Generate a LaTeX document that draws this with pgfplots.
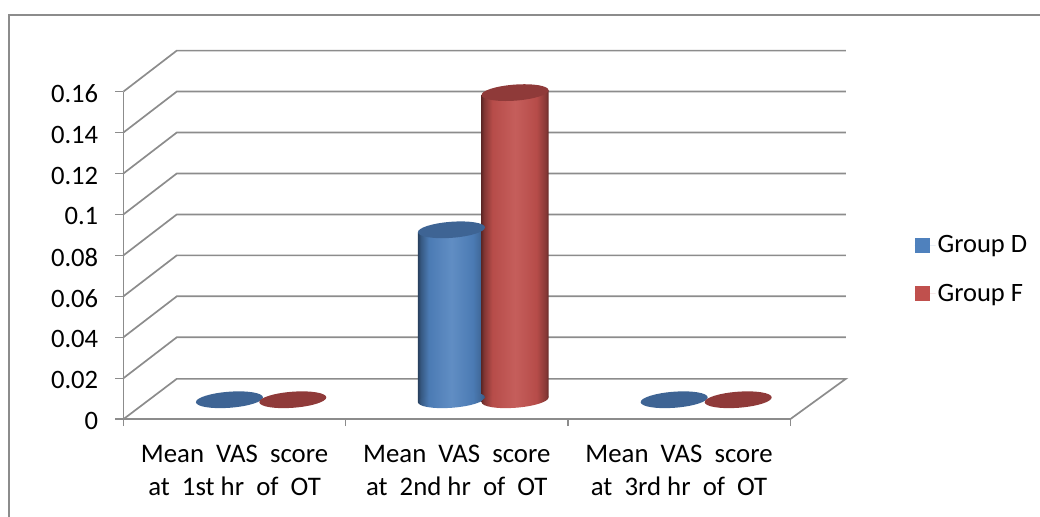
\documentclass[border=0pt]{standalone}
\usepackage{fontspec}
\setmainfont{Carlito}
\usepackage{pgfplots}
\pgfplotsset{compat=1.18}
\usepackage{pgfplotstable}

\definecolor{gridgray}{HTML}{8C8C8C}
\definecolor{capD}{HTML}{3E6494}
\definecolor{capF}{HTML}{8F3A39}
\definecolor{groupD}{HTML}{4F81BD}
\definecolor{groupF}{HTML}{C0504D}

% cylinder side shading; the central 50bp span the width of the body
\pgfdeclarehorizontalshading{cylD}{100bp}{
  color(0bp)=(groupD!50!black); color(25bp)=(groupD!50!black);
  color(27bp)=(groupD!68!black); color(33bp)=(groupD!95!black);
  color(50bp)=(groupD!90!white); color(66bp)=(groupD!95!black);
  color(73bp)=(groupD!78!black); color(75bp)=(groupD!65!black);
  color(100bp)=(groupD!65!black)}
\pgfdeclarehorizontalshading{cylF}{100bp}{
  color(0bp)=(groupF!50!black); color(25bp)=(groupF!50!black);
  color(27bp)=(groupF!68!black); color(33bp)=(groupF!95!black);
  color(50bp)=(groupF!92!white); color(66bp)=(groupF!95!black);
  color(73bp)=(groupF!70!black); color(75bp)=(groupF!52!black);
  color(100bp)=(groupF!52!black)}

% tilted end caps of the cylinders, long axis rising to the right
\newcommand{\cappath}{\pgfpathellipse{\pgfpointorigin}{\pgfpoint{33.5pt}{2.5pt}}{\pgfpoint{-0.6pt}{8pt}}}
\pgfdeclareplotmark{topD}{\cappath\pgfsetfillcolor{capD}\pgfusepathqfill}
\pgfdeclareplotmark{topF}{\cappath\pgfsetfillcolor{capF}\pgfusepathqfill}
\pgfdeclareplotmark{baseD}{\cappath\pgfshadepath{cylD}{0}\pgfusepath{discard}}
\pgfdeclareplotmark{baseF}{\cappath\pgfshadepath{cylF}{0}\pgfusepath{discard}}

% x: centre of each cylinder; v: the group's mean score
\pgfplotstableread{
x     v
0.477 0
1.476 0.083
2.478 0
}\groupDtable
\pgfplotstableread{
x     v
0.762 0
1.762 0.15
2.766 0
}\groupFtable

\begin{document}
\begin{tikzpicture}[x=1pt,y=1pt]
\useasboundingbox (0,0) rectangle (1040,516);
% outer chart border, running off the page on two sides
\draw[gridgray,line width=1.5pt] (8.8,-2) -- (8.8,501) -- (1042,501);
\begin{axis}[
  at={(123.4pt,96.8pt)}, anchor=origin,
  scale only axis, width=666.8pt, height=327.6pt,
  xmin=0, xmax=3, ymin=0, ymax=0.16,
  clip=false,
  axis x line*=bottom, axis y line*=left,
  axis line style={gridgray,line width=1.8pt,-},
  tick align=outside,
  major tick length=8pt, minor tick length=7pt,
  tick style={gridgray,line width=1.4pt},
  ytick={0,0.02,0.04,0.06,0.08,0.1,0.12,0.14,0.16},
  yticklabel style={/pgf/number format/fixed,/pgf/number format/precision=2,
    /pgf/number format/assume math mode=true,font=\fontsize{26.6}{26.6}\selectfont,
    inner sep=0pt, xshift=-17pt, yshift=-2pt},
  xtick={0.5,1.5,2.5},
  minor xtick={0,1,2,3},
  major x tick style={draw=none},
  xticklabels={{Mean\ \ VAS\ \ score\\at\ \ 1st hr\ \ of\ \ OT},
               {Mean\ \ VAS\ \ score\\at\ \ 2nd hr\ \ of\ \ OT},
               {Mean\ \ VAS\ \ score\\at\ \ 3rd hr\ \ of\ \ OT}},
  xticklabel style={align=center,font=\fontsize{26.8}{33}\selectfont,
    inner sep=0pt, yshift=-18pt},
  legend style={at={(axis cs:3.5586,0.0907)},anchor=north west,draw=none,fill=none,
    font=\fontsize{26.5}{26.5}\selectfont,inner sep=0pt,
    row sep=26pt},
  legend cell align=left,
  legend image code/.code={
    \fill[#1] (0pt,-7.5pt) rectangle (15pt,7.5pt);
    \path (0pt,0pt) -- (21pt,0pt);},
]
% floor of the plot box
\addplot[forget plot,gridgray,line width=1.7pt] coordinates {(0,0) (0.24,0.0197) (3.25,0.0197) (3,0)};
% wall gridlines with their receding part
\addplot[forget plot,gridgray,line width=1.7pt] coordinates {(0,0.02) (0.24,0.04) (3.25,0.04)};
\addplot[forget plot,gridgray,line width=1.7pt] coordinates {(0,0.04) (0.24,0.06) (3.25,0.06)};
\addplot[forget plot,gridgray,line width=1.7pt] coordinates {(0,0.06) (0.24,0.08) (3.25,0.08)};
\addplot[forget plot,gridgray,line width=1.7pt] coordinates {(0,0.08) (0.24,0.10) (3.25,0.10)};
\addplot[forget plot,gridgray,line width=1.7pt] coordinates {(0,0.10) (0.24,0.12) (3.25,0.12)};
\addplot[forget plot,gridgray,line width=1.7pt] coordinates {(0,0.12) (0.24,0.14) (3.25,0.14)};
\addplot[forget plot,gridgray,line width=1.7pt] coordinates {(0,0.14) (0.24,0.16) (3.25,0.16)};
\addplot[forget plot,gridgray,line width=1.7pt] coordinates {(0,0.16) (0.24,0.18) (3.25,0.18)};

% Group D: rounded base, side, then cap (floor depth lifts everything by 0.0095)
\addplot[forget plot,only marks,mark=baseD] coordinates {(1.476,0.0095)};
\addplot[forget plot,draw=none,shade,shading=cylD] coordinates
  {(1.3253,0.0083) (1.3253,0.0913) (1.6267,0.0937) (1.6267,0.0107)} -- cycle;
\addplot[forget plot,only marks,mark=topD] table[x=x,y expr=\thisrow{v}+0.0095] {\groupDtable};

% Group F, in front of Group D
\addplot[forget plot,only marks,mark=baseF] coordinates {(1.762,0.0095)};
\addplot[forget plot,draw=none,shade,shading=cylF] coordinates
  {(1.6113,0.0083) (1.6113,0.1583) (1.9127,0.1607) (1.9127,0.0107)} -- cycle;
\addplot[forget plot,only marks,mark=topF] table[x=x,y expr=\thisrow{v}+0.0095] {\groupFtable};

\addlegendimage{fill=groupD,draw=none}
\addlegendentry{Group D}
\addlegendimage{fill=groupF,draw=none}
\addlegendentry{Group F}
\end{axis}
\end{tikzpicture}
\end{document}
